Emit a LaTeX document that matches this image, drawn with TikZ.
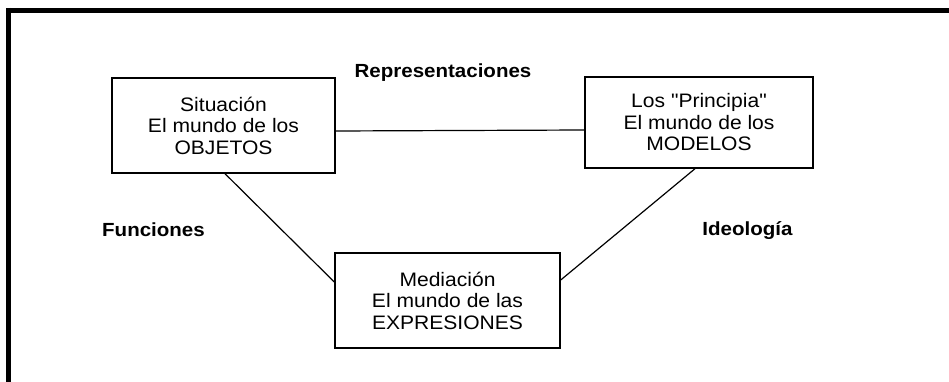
\documentclass[tikz,border=0pt]{standalone}
\usepackage{fontspec}
\setmainfont[FakeStretch=1.08,Ligatures=TeXOff]{Liberation Sans}
\begin{document}
\begin{tikzpicture}[x=1pt,y=-1pt,
  box/.style={draw=black,line width=1.4pt,minimum height=#1,inner sep=0pt,
    align=center,font=\fontsize{19.5}{21.5}\selectfont},
  lbl/.style={font=\fontsize{19}{22}\selectfont\bfseries,anchor=base,inner sep=0pt},
  conn/.style={draw=black,line width=1.2pt}]
\useasboundingbox (0,0) rectangle (949,382);
% frame (top and left only)
\draw[line width=5.5pt] (6,10.5) -- (949,10.5);
\draw[line width=5pt] (8.5,8) -- (8.5,382);
% boxes
\node[box=95pt,minimum width=223pt] (b1) at (223.5,125.5) {Situación\\El mundo de los\\OBJETOS};
\node[box=91pt,minimum width=228pt] (b2) at (699,122.5) {Los "Principia"\\El mundo de los\\MODELOS};
\node[box=95pt,minimum width=225pt] (b3) at (447.5,300.5) {Mediación\\El mundo de las\\EXPRESIONES};
% connectors
\draw[conn] ([yshift=-5.5pt]b1.east) -- ([yshift=-7.5pt]b2.west);
\draw[conn] ([xshift=1.5pt]b1.south) -- ([yshift=18.5pt]b3.west);
\draw[conn] ([xshift=-4pt]b2.south) -- ([yshift=20.5pt]b3.east);
% labels
\node[lbl] (l1) at (443,78) {Representaciones};
\node[lbl] (l2) at (153.5,236) {Funciones};
\node[lbl] (l3) at (747.5,235) {Ideología};
\end{tikzpicture}
\end{document}
